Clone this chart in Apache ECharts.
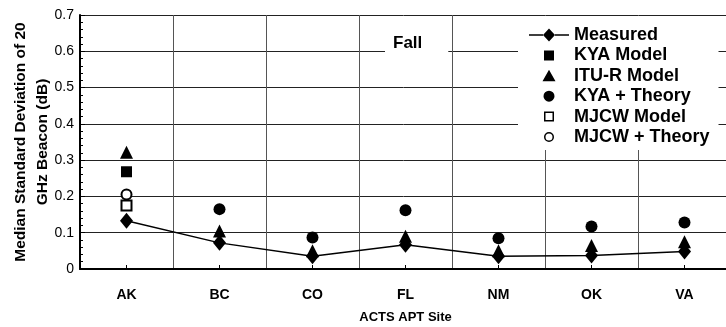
<!DOCTYPE html>
<html><head><meta charset="utf-8">
<script src="https://cdn.jsdelivr.net/npm/echarts@6/dist/echarts.min.js"></script>
<style>html,body{margin:0;padding:0;background:#fff}#c{width:726px;height:327px}</style>
</head><body><div id="c"></div>
<script>
const categories = ['AK','BC','CO','FL','NM','OK','VA'];
const measured   = [0.133, 0.072, 0.035, 0.067, 0.035, 0.037, 0.048];
const kyaModel   = [0.268, null, null, null, null, null, null];
const ituModel   = [0.322, 0.105, 0.050, 0.090, 0.050, 0.065, 0.075];
const kyaTheory  = [null, 0.165, 0.087, 0.162, 0.085, 0.117, 0.128];
const mjcwModel  = [0.175, null, null, null, null, null, null];
const mjcwTheory = [0.205, null, null, null, null, null, null];
const yTicks = [0, 0.1, 0.2, 0.3, 0.4, 0.5, 0.6, 0.7];

const FONT = '"Liberation Sans", Arial, Helvetica, sans-serif';
const SPECK = 'M0,0 L0.01,0 L0,0.01 Z M40,13 L39.99,13 L40,12.99 Z ';
const ICONS = {
  measured: 'path://' + SPECK + 'M0,5.8 L14,5.8 L14,7.2 L0,7.2 Z M26,5.8 L40,5.8 L40,7.2 L26,7.2 Z M20,0 L26,6.5 L20,13 L14,6.5 Z',
  rect: 'path://' + SPECK + 'M15,1.5 L25,1.5 L25,11.5 L15,11.5 Z',
  tri: 'path://' + SPECK + 'M20,0.5 L26.5,12 L13.5,12 Z',
  circ: 'path://' + SPECK + 'M25.5,6.5 A5.5,5.5 0 1 1 14.5,6.5 A5.5,5.5 0 1 1 25.5,6.5 Z',
  erect: 'path://' + SPECK + 'M15,1.5 L25,1.5 L25,11.5 L15,11.5 Z M16.5,3 L16.5,10 L23.5,10 L23.5,3 Z',
  ecirc: 'path://' + SPECK + 'M25,6.5 A5,5 0 1 1 15,6.5 A5,5 0 1 1 25,6.5 Z M23.5,6.5 A3.5,3.5 0 1 0 16.5,6.5 A3.5,3.5 0 1 0 23.5,6.5 Z'
};
const blk = {color:'#000', borderWidth:0, opacity:1};

const chart = echarts.init(document.getElementById('c'), null, {renderer:'canvas'});
function sc(name, data, symbol, size, z){
  return {name, type:'scatter', data, symbol, symbolSize:size, z,
    itemStyle:{color:'#000', opacity:1, borderColor:'#000',
      borderWidth: symbol.startsWith('empty') ? 1.5 : 0}};
}
chart.setOption({
  animation:false,
  textStyle:{fontFamily:FONT},
  title:{text:'Fall', left:385, top:30, padding:[5,26,5,8], backgroundColor:'#fff',
    textStyle:{fontFamily:FONT, fontSize:17, fontWeight:'bold', color:'#000'}},
  legend:{
    data:[
      {name:'Measured', icon:ICONS.measured, itemStyle:blk},
      {name:'KYA Model', icon:ICONS.rect, itemStyle:blk},
      {name:'ITU-R Model', icon:ICONS.tri, itemStyle:blk},
      {name:'KYA + Theory', icon:ICONS.circ, itemStyle:blk},
      {name:'MJCW Model', icon:ICONS.erect, itemStyle:blk},
      {name:'MJCW + Theory', icon:ICONS.ecirc, itemStyle:blk}],
    orient:'vertical', left:518, top:16, padding:[10,9,4,11], itemGap:2.4,
    itemWidth:40, itemHeight:13, backgroundColor:'#fff',
    textStyle:{fontFamily:FONT, fontSize:18, lineHeight:18, fontWeight:'bold', color:'#000'}
  },
  grid:{left:80, top:15, width:651, height:254, outerBoundsMode:'none', containLabel:false},
  xAxis:{type:'category', data:categories, boundaryGap:true,
    name:'ACTS APT Site', nameLocation:'middle', nameGap:42, nameMoveOverlap:false,
    nameTextStyle:{fontFamily:FONT, fontSize:13, fontWeight:'bold', color:'#000'},
    axisLine:{lineStyle:{color:'#000', width:2}},
    axisTick:{show:true, inside:true, alignWithLabel:true, length:4, lineStyle:{color:'#000'}},
    axisLabel:{fontFamily:FONT, fontSize:14, fontWeight:'bold', color:'#000', margin:19},
    splitLine:{show:true, lineStyle:{color:'#555', width:1}}
  },
  yAxis:{type:'value', min:0, max:0.7, interval:0.1,
    name:'Median Standard Deviation of 20\nGHz Beacon (dB)', nameLocation:'middle', nameGap:26,
    nameMoveOverlap:false,
    nameTextStyle:{fontFamily:FONT, fontSize:15.5, fontWeight:'bold', color:'#000', lineHeight:22},
    axisLine:{show:true, lineStyle:{color:'#000', width:2}},
    axisTick:{show:true, inside:true, length:5, lineStyle:{color:'#000'}},
    minorTick:{show:true, splitNumber:5, length:3, lineStyle:{color:'#000'}},
    axisLabel:{fontFamily:FONT, fontSize:14, color:'#000', margin:6,
      formatter:v=>{const t=yTicks.find(x=>Math.abs(x-v)<1e-9);return t===0?'0':String(t);}},
    splitLine:{show:true, lineStyle:{color:'#222', width:1}}
  },
  series:[
    sc('KYA + Theory', kyaTheory, 'circle', 12, 2),
    sc('MJCW Model', mjcwModel, 'emptyRect', 10, 3),
    sc('MJCW + Theory', mjcwTheory, 'emptyCircle', 10, 3),
    sc('KYA Model', kyaModel, 'rect', 11, 4),
    sc('ITU-R Model', ituModel, 'triangle', 13, 5),
    {name:'Measured', type:'line', data:measured, symbol:'diamond', symbolSize:[13,16], z:6,
      lineStyle:{color:'#000', width:1.5}, itemStyle:{color:'#000', opacity:1}}
  ]
});
</script></body></html>
